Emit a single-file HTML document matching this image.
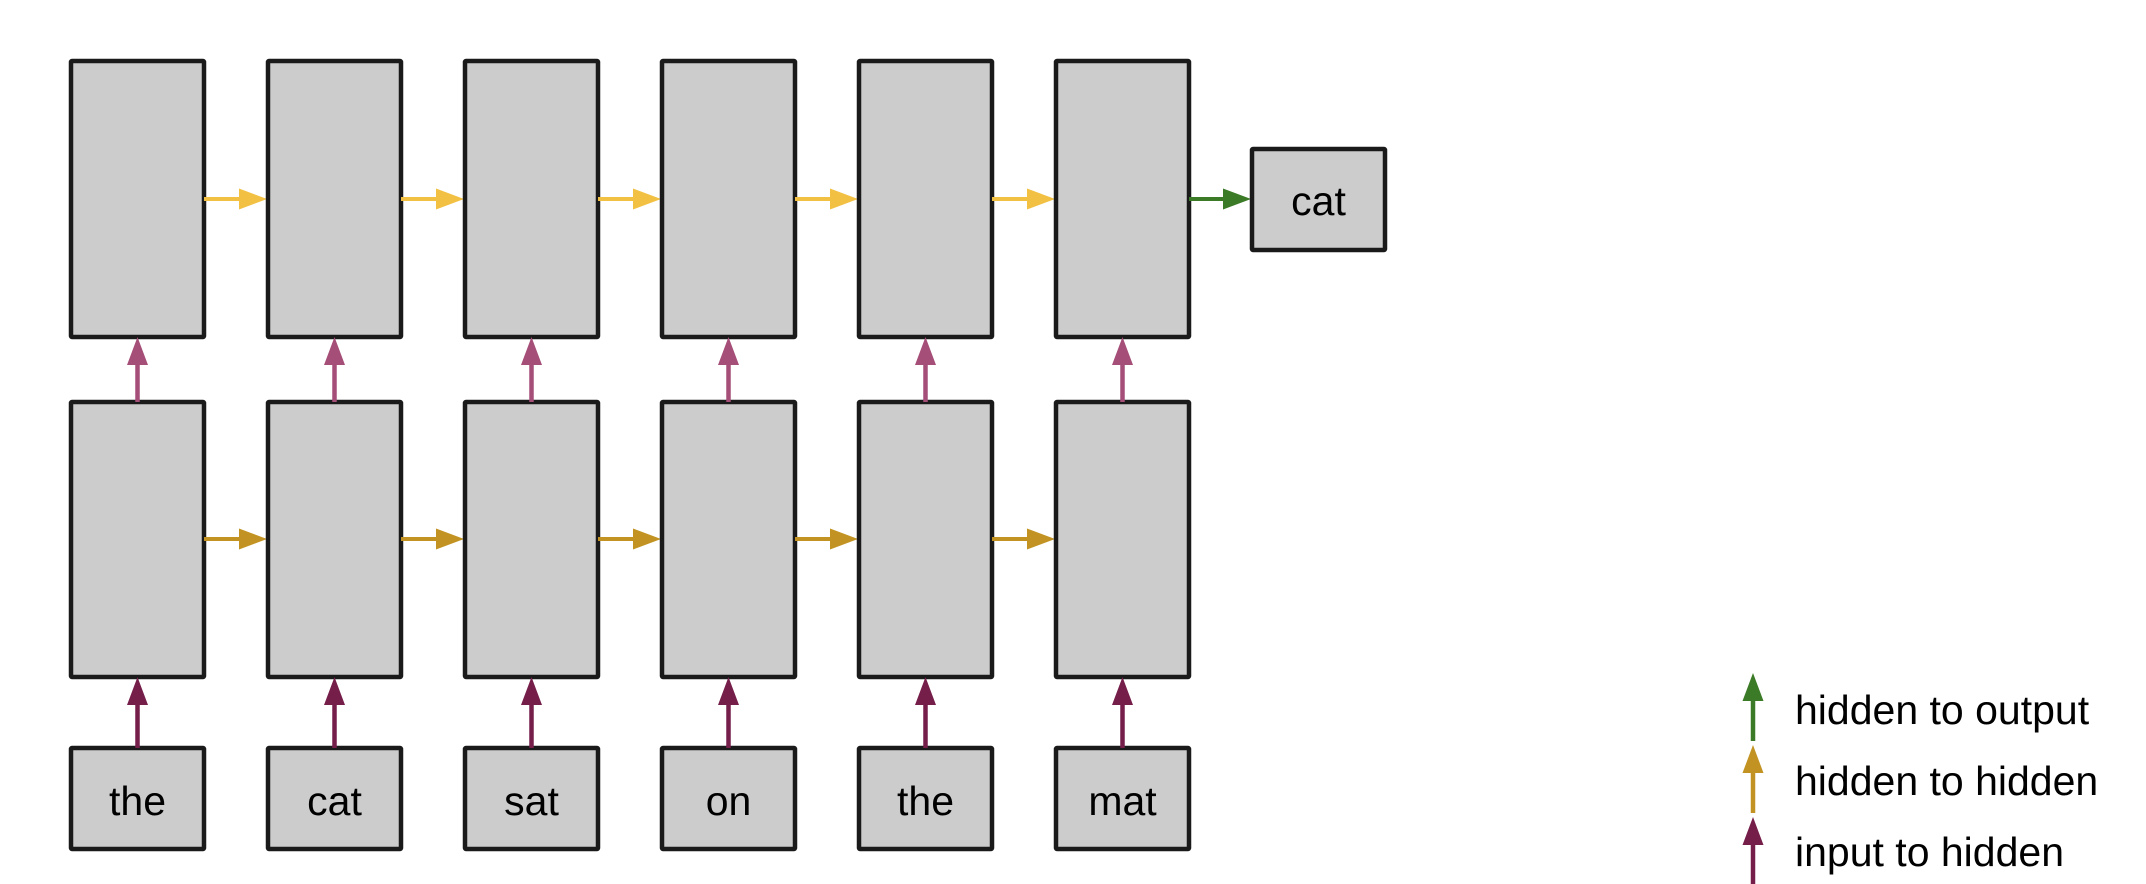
<!DOCTYPE html>
<html><head><meta charset="utf-8"><style>
html,body{margin:0;padding:0;background:#fff;}
svg{display:block;}
text{font-family:"Liberation Sans",Arial,sans-serif;fill:#000;}
</style></head><body>
<svg id="chart" width="2146" height="884" viewBox="0 0 2146 884" xmlns="http://www.w3.org/2000/svg"></svg>
<script>
const words = ["the","cat","sat","on","the","mat"];
const outputWord = ["cat"];
const legendLabels = ["hidden to output","hidden to hidden","input to hidden"];
const legendColors = ["#3b7a26","#c29322","#751e4a"];

const NS = "http://www.w3.org/2000/svg";
const svg = document.getElementById("chart");
const X0 = 69, PITCH = 197, BW = 137;
function colX(i){ return X0 + PITCH*i; }
function mk(tag, attrs, parent){
  const e = document.createElementNS(NS, tag);
  for (const k in attrs) e.setAttribute(k, attrs[k]);
  (parent||svg).appendChild(e);
  return e;
}
function box(x,y,w,h,name){
  const r = mk("rect",{x:x+2,y:y+2,width:w-4,height:h-4,fill:"#cccccc",stroke:"#1a1a1a","stroke-width":4.5,rx:1});
  
  
  return r;
}
function hArrow(x1,x2,y,color,name){
  const g = mk("g",{});
  
  
  mk("line",{x1:x1,y1:y,x2:x2-26,y2:y,stroke:color,"stroke-width":4},g);
  mk("polygon",{points:`${x2-28},${y-10.5} ${x2},${y} ${x2-28},${y+10.5}`,fill:color},g);
}
function vArrow(x,y1,y2,color,name){ // y1 bottom, y2 tip
  const g = mk("g",{});
  
  
  mk("line",{x1:x,y1:y1,x2:x,y2:y2+26,stroke:color,"stroke-width":4.5},g);
  mk("polygon",{points:`${x-10.5},${y2+28} ${x},${y2} ${x+10.5},${y2+28}`,fill:color},g);
}
const topY=59, topH=280, lowY=400, lowH=279, inY=746, inH=105;
words.forEach((w,i)=>{
  const x = colX(i), cx = x + BW/2;
  box(x,topY,BW,topH,"top-hidden-"+(i+1));
  box(x,lowY,BW,lowH,"bottom-hidden-"+(i+1));
  box(x,inY,BW,inH,"input-box-"+(i+1));
  const t = mk("text",{x:cx,y:815,"text-anchor":"middle","font-size":41});
  t.textContent = w;
  
  
  vArrow(cx, inY+2, lowY+lowH-2, "#751e4a", "input-to-hidden-arrow-"+(i+1));
  vArrow(cx, lowY+2, topY+topH-2, "#a54e78", "hidden-to-hidden-up-arrow-"+(i+1));
  if (i < words.length-1){
    hArrow(x+BW-2, colX(i+1)+1, 199, "#f2c043", "top-recurrent-arrow-"+(i+1));
    hArrow(x+BW-2, colX(i+1)+1, 539, "#c29322", "bottom-recurrent-arrow-"+(i+1));
  }
});
const last = colX(words.length-1)+BW;
hArrow(last-2, 1251, 199, "#3b7a26", "hidden-to-output-arrow");
box(1250,147,137,105,"output-box");
const ot = mk("text",{x:1318.5,y:215,"text-anchor":"middle","font-size":41});
ot.textContent = outputWord[0];



legendLabels.forEach((lab,i)=>{
  const tip = 673 + 72*i;
  vArrow(1753, tip+68, tip, legendColors[i], "legend-arrow-"+(i+1));
  const t = mk("text",{x:1795,y:724+71*i,"font-size":41});
  t.textContent = lab;
  
  
});
</script>
</body></html>
